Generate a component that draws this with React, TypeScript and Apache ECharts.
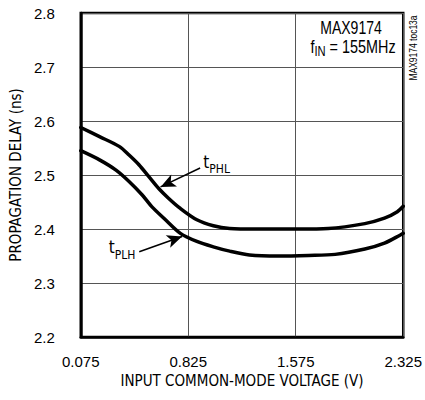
import React, { useEffect, useRef } from 'react';
import * as echarts from 'echarts';

const FONT = "'DejaVu Sans Condensed', 'Liberation Sans', sans-serif";
const NUMFONT = "'Liberation Sans', Arial, sans-serif";

const X_OFFSET = 0.075;
const xTickLabels = ['0.075', '0.825', '1.575', '2.325'];
const yTickLabels = ['2.2', '2.3', '2.4', '2.5', '2.6', '2.7', '2.8'];

// tPHL (upper curve)
const tphlX = [0.075, 0.206, 0.343, 0.412, 0.481, 0.55, 0.619, 0.687, 0.77, 0.885, 1.0, 1.114, 1.3, 1.596, 1.802, 2.057, 2.194, 2.284, 2.325];
const tphlY = [2.588, 2.571, 2.553, 2.537, 2.519, 2.497, 2.475, 2.457, 2.438, 2.417, 2.406, 2.401, 2.4, 2.4, 2.401, 2.41, 2.42, 2.432, 2.442];

// tPLH (lower curve)
const tplhX = [0.075, 0.206, 0.321, 0.412, 0.504, 0.572, 0.655, 0.77, 0.885, 1.0, 1.114, 1.252, 1.45, 1.664, 1.85, 2.057, 2.194, 2.305, 2.325];
const tplhY = [2.545, 2.528, 2.509, 2.488, 2.463, 2.441, 2.42, 2.392, 2.377, 2.367, 2.359, 2.352, 2.35, 2.351, 2.353, 2.363, 2.374, 2.389, 2.392];

// annotation arrows: [tailX, tailY, headX, headY]
const arrowPHL = [0.908, 2.513, 0.632, 2.478];
const arrowPLH = [0.483, 2.358, 0.782, 2.386];

// annotation labels: anchor (left, middle) in data units
const labelPHL = { x: 0.93, y: 2.52, main: 't', sub: 'PHL' };
const labelPLH = { x: 0.27, y: 2.362, main: 't', sub: 'PLH' };

const toData = (xs: number[], ys: number[]) => xs.map((x, i) => [x - X_OFFSET, ys[i]]);

export default function App() {
  const ref = useRef<HTMLDivElement>(null);
  useEffect(() => {
    if (!ref.current) return;
    const chart = echarts.init(ref.current, undefined, { renderer: 'svg' });
    const arrowData = [arrowPHL, arrowPLH].map((a) => [
      { coord: [a[0] - X_OFFSET, a[1]] },
      { coord: [a[2] - X_OFFSET, a[3]] },
    ]);
    chart.setOption({
      animation: false,
      backgroundColor: '#fff',
      grid: {
        left: 79,
        right: 19,
        top: 13,
        bottom: 63,
        show: true,
        borderColor: '#000',
        borderWidth: 2.5,
        backgroundColor: 'transparent',
      },
      xAxis: {
        type: 'value',
        min: 0,
        max: 2.25,
        interval: 0.75,
        name: 'INPUT COMMON-MODE VOLTAGE (V)',
        nameLocation: 'middle',
        nameGap: 35,
        nameTextStyle: { fontFamily: FONT, fontSize: 15, color: '#000', verticalAlign: 'top' },
        axisLine: { show: true, lineStyle: { color: '#000', width: 2.5 } },
        axisTick: { show: false },
        axisLabel: {
          margin: 17,
          fontFamily: NUMFONT,
          fontSize: 15,
          color: '#000',
          formatter: (v: number) => xTickLabels[Math.round(v / 0.75)] ?? '',
        },
        splitLine: { show: true, lineStyle: { color: '#555', width: 1 } },
      },
      yAxis: {
        type: 'value',
        min: 2.2,
        max: 2.8,
        interval: 0.1,
        name: 'PROPAGATION DELAY (ns)',
        nameLocation: 'middle',
        nameGap: 57,
        nameTextStyle: { fontFamily: FONT, fontSize: 15, color: '#000' },
        axisLine: { show: true, lineStyle: { color: '#000', width: 2.5 } },
        axisTick: { show: false },
        axisLabel: {
          margin: 26,
          fontFamily: NUMFONT,
          fontSize: 15,
          color: '#000',
          formatter: (v: number) => yTickLabels[Math.round((v - 2.2) / 0.1)] ?? '',
        },
        splitLine: { show: true, lineStyle: { color: '#555', width: 1 } },
      },
      series: [
        {
          name: 'tPHL',
          type: 'line',
          data: toData(tphlX, tphlY),
          smooth: 0.3,
          symbol: 'none',
          lineStyle: { color: '#000', width: 3.5, join: 'round', cap: 'round' },
          markLine: {
            silent: true,
            symbol: ['none', 'arrow'],
            symbolSize: [10, 15],
            label: { show: false },
            lineStyle: { color: '#000', width: 1.5, type: 'solid' },
            data: arrowData,
          },
        },
        {
          name: 'tPLH',
          type: 'line',
          data: toData(tplhX, tplhY),
          smooth: 0.3,
          symbol: 'none',
          lineStyle: { color: '#000', width: 3.5, join: 'round', cap: 'round' },
        },
      ],
    });

    const rich = {
      m: { fontFamily: FONT, fontSize: 17, color: '#000', padding: [0, 0, 5, 0], verticalAlign: 'bottom' },
      s: { fontFamily: FONT, fontSize: 12, color: '#000', verticalAlign: 'bottom' },
    };
    const labelEls = [labelPHL, labelPLH].map((l) => {
      const p = chart.convertToPixel({ gridIndex: 0 }, [l.x - X_OFFSET, l.y]) as number[];
      return {
        type: 'text',
        x: p[0],
        y: p[1],
        style: {
          text: `{m|${l.main}}{s|${l.sub}}`,
          rich,
          textAlign: 'left',
          textVerticalAlign: 'middle',
        },
      };
    });

    chart.setOption({
      graphic: [
        ...labelEls,
        {
          type: 'text',
          x: 351,
          y: 27,
          scaleX: 0.78,
          style: {
            text: 'MAX9174',
            fontFamily: NUMFONT,
            fontSize: 18,
            fill: '#000',
            textAlign: 'center',
            textVerticalAlign: 'middle',
          },
        },
        {
          type: 'text',
          x: 353,
          y: 48,
          scaleX: 0.8,
          style: {
            text: '{m|f}{s|IN}{m| = 155MHz}',
            rich: {
              m: { fontFamily: NUMFONT, fontSize: 18, color: '#000', padding: [0, 0, 4, 0], verticalAlign: 'bottom' },
              s: { fontFamily: NUMFONT, fontSize: 14, color: '#000', verticalAlign: 'bottom' },
            },
            textAlign: 'center',
            textVerticalAlign: 'middle',
          },
        },
        {
          type: 'text',
          x: 414,
          y: 48,
          rotation: Math.PI / 2,
          scaleX: 0.85,
          style: {
            text: 'MAX9174 toc13a',
            fontFamily: NUMFONT,
            fontSize: 10,
            fill: '#000',
            textAlign: 'center',
            textVerticalAlign: 'middle',
          },
        },
      ],
    });
    return () => chart.dispose();
  }, []);
  return (
    <div
      ref={ref}
      style={{ position: 'fixed', left: 0, top: 0, width: 425, height: 400 }}
    />
  );
}
